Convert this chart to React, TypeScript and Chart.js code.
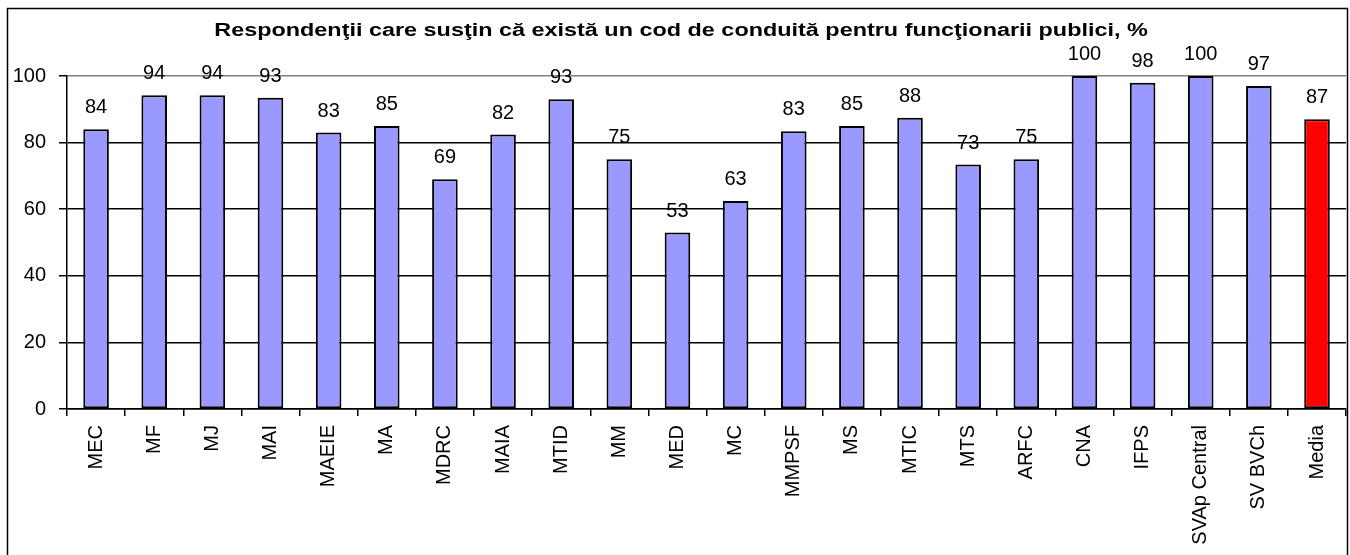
import React, { useEffect, useRef } from "react";
import { Chart, registerables } from "chart.js";

Chart.register(...registerables);

const TITLE = "Respondenţii care susţin că există un cod de conduită pentru funcţionarii publici, %";

const categories = [
  "MEC", "MF", "MJ", "MAI", "MAEIE", "MA", "MDRC", "MAIA", "MTID", "MM", "MED",
  "MC", "MMPSF", "MS", "MTIC", "MTS", "ARFC", "CNA", "IFPS", "SVAp Central", "SV BVCh", "Media",
];

const values = [
  84, 94.2, 94.2, 93.5, 83, 85, 69, 82.4, 93, 75, 53,
  62.5, 83.4, 85, 87.5, 73.4, 75, 100, 98, 100, 97, 87,
];

const valueLabels = [
  "84", "94", "94", "93", "83", "85", "69", "82", "93", "75", "53",
  "63", "83", "85", "88", "73", "75", "100", "98", "100", "97", "87",
];

const yTicks = [0, 20, 40, 60, 80, 100];

const FONT = "'Liberation Sans', Arial, sans-serif";

export default function App() {
  const ref = useRef<HTMLCanvasElement | null>(null);

  useEffect(() => {
    if (!ref.current) return;

    const framePlugin = {
      id: "frame",
      beforeDraw(chart: any) {
        const ctx = chart.ctx;
        ctx.save();
        ctx.fillStyle = "#ffffff";
        ctx.fillRect(0, 0, chart.width, chart.height);
        ctx.restore();
      },
      afterDraw(chart: any) {
        const ctx = chart.ctx;
        ctx.save();
        ctx.strokeStyle = "#000000";
        ctx.lineWidth = 1.5;
        ctx.strokeRect(7.5, 8.5, 1340, 700);
        ctx.fillStyle = "#000000";
        ctx.font = `bold 18px ${FONT}`;
        ctx.textAlign = "center";
        ctx.textBaseline = "alphabetic";
        const sx = 1.3;
        ctx.translate(681, 36);
        ctx.scale(sx, 1);
        ctx.fillText(TITLE, 0, 0);
        ctx.restore();
      },
    };

    const labelPlugin = {
      id: "valueLabels",
      afterDatasetsDraw(chart: any) {
        const ctx = chart.ctx;
        const meta = chart.getDatasetMeta(0);
        ctx.save();
        ctx.fillStyle = "#000000";
        ctx.font = `20px ${FONT}`;
        ctx.textAlign = "center";
        ctx.textBaseline = "alphabetic";
        meta.data.forEach((bar: any, i: number) => {
          ctx.fillText(valueLabels[i], bar.x, bar.y - 16);
        });
        ctx.restore();
      },
    };

    const chart = new Chart(ref.current, {
      type: "bar",
      data: {
        labels: categories,
        datasets: [
          {
            data: values,
            backgroundColor: categories.map((_, i) => (i === categories.length - 1 ? "#ff0000" : "#9999ff")),
            borderColor: "#000000",
            borderWidth: 2,
            borderSkipped: false,
            barPercentage: 0.44,
            categoryPercentage: 1,
          },
        ],
      },
      options: {
        responsive: false,
        animation: false,
        layout: { padding: { top: 76, left: 0, right: 0, bottom: 0 } },
        plugins: {
          legend: { display: false },
          title: { display: false },
          tooltip: { enabled: false },
        },
        scales: {
          x: {
            grid: {
              drawOnChartArea: false,
              drawTicks: true,
              tickLength: 7,
              color: "#000000",
              offset: true,
              lineWidth: 1.5,
            },
            border: { display: true, color: "#000000", width: 1.5 },
            ticks: {
              autoSkip: false,
              maxRotation: 90,
              minRotation: 90,
              padding: 9,
              color: "#000000",
              font: { family: FONT, size: 20 },
            },
            afterFit: (s: any) => {
              s.height = 146;
            },
          },
          y: {
            min: 0,
            max: 100,
            afterBuildTicks: (s: any) => {
              s.ticks = yTicks.map((v) => ({ value: v }));
            },
            grid: {
              color: (c: any) => (c.tick && c.tick.value === 100 ? "#808080" : "#000000"),
              tickColor: "#000000",
              tickLength: 8,
              lineWidth: 1.5,
            },
            border: { display: true, color: "#000000", width: 1.5 },
            ticks: {
              padding: 13,
              color: "#000000",
              font: { family: FONT, size: 20 },
            },
            afterFit: (s: any) => {
              s.width = 67;
            },
          },
        },
      },
      plugins: [framePlugin, labelPlugin],
    });

    return () => chart.destroy();
  }, []);

  return (
    <div style={{ position: "absolute", left: 0, top: 0, width: 1350, height: 555 }}>
      <canvas ref={ref} width={1350} height={555} style={{ width: 1350, height: 555, display: "block" }} />
    </div>
  );
}
